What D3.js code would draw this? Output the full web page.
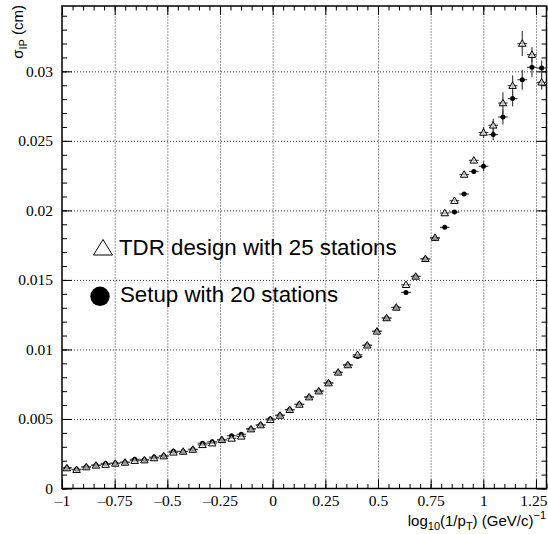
<!DOCTYPE html>
<html><head><meta charset="utf-8">
<script src="https://cdn.jsdelivr.net/npm/d3@7"></script>
<style>html,body{margin:0;padding:0;background:#fff}svg{display:block}</style>
</head><body>
<script>
// ---- data ----
const binCenters = [-0.977,-0.931,-0.885,-0.839,-0.793,-0.747,-0.701,-0.655,-0.609,-0.563,
  -0.517,-0.471,-0.425,-0.379,-0.333,-0.287,-0.241,-0.195,-0.149,-0.103,
  -0.057,-0.011,0.035,0.081,0.127,0.173,0.219,0.265,0.311,0.357,
  0.403,0.449,0.495,0.541,0.587,0.633,0.679,0.725,0.771,0.817,
  0.863,0.909,0.955,1.001,1.047,1.093,1.139,1.185,1.231,1.277];
const binHalfWidth = 0.023;
const tdrValues = [0.00147,0.00135,0.00154,0.00166,0.00172,0.0018,0.00187,0.0020,0.00204,0.00219,
  0.00233,0.0026,0.00266,0.0028,0.00314,0.00326,0.0035,0.0036,0.00375,0.00427,
  0.00456,0.00494,0.00525,0.00566,0.00604,0.00657,0.0070,0.00758,0.00835,0.00888,
  0.00962,0.0103,0.0113,0.01226,0.01302,0.01465,0.01525,0.01652,0.01804,0.01981,
  0.0207,0.02258,0.0236,0.0256,0.02612,0.02772,0.02897,0.0320,0.0312,0.02921];
const tdrErrors = [0.00003,0.00003,0.00003,0.00003,0.00003,0.00003,0.00003,0.00003,0.00003,0.00003,
  0.00003,0.00003,0.00003,0.00003,0.00003,0.00003,0.00003,0.00003,0.00003,0.00004,
  0.00004,0.00004,0.00004,0.00004,0.00004,0.00005,0.00005,0.00005,0.00005,0.00005,
  0.00006,0.00006,0.00006,0.00007,0.00007,0.00008,0.00008,0.0001,0.0001,0.0001,
  0.0001,0.00014,0.00016,0.0004,0.00048,0.00078,0.00074,0.0009,0.00054,0.00054];
const setupValues = [0.0015,0.00138,0.00156,0.00168,0.0018,0.00182,0.00189,0.0021,0.00206,0.00225,
  0.00235,0.00268,0.00266,0.00282,0.00326,0.00336,0.0035,0.0038,0.0039,0.0043,
  0.00458,0.005,0.00527,0.00568,0.00606,0.00659,0.00702,0.0076,0.00835,0.0089,
  0.0095,0.0103,0.0113,0.01226,0.01302,0.0141,0.01525,0.01652,0.018,0.01878,
  0.01988,0.02118,0.0228,0.02317,0.02545,0.02672,0.02804,0.0294,0.03029,0.03024];
const setupErrors = [0.00003,0.00003,0.00003,0.00003,0.00003,0.00003,0.00003,0.00003,0.00003,0.00003,
  0.00003,0.00003,0.00003,0.00003,0.00003,0.00003,0.00003,0.00003,0.00003,0.00004,
  0.00004,0.00004,0.00004,0.00004,0.00004,0.00005,0.00005,0.00005,0.00005,0.00005,
  0.00006,0.00006,0.00006,0.00007,0.00007,0.00008,0.00008,0.0001,0.0001,0.0001,
  0.0001,0.00012,0.00016,0.00036,0.0004,0.00054,0.00056,0.00072,0.00072,0.00054];
const xTickValues = [-1,-0.75,-0.5,-0.25,0,0.25,0.5,0.75,1,1.25];
const xTickLabels = ["\u20131","\u20130.75","\u20130.5","\u20130.25","0","0.25","0.5","0.75","1","1.25"];
const yTickValues = [0,0.005,0.01,0.015,0.02,0.025,0.03];
const yTickLabels = ["0","0.005","0.01","0.015","0.02","0.025","0.03"];
const legendLabels = ["TDR design with 25 stations","Setup with 20 stations"];

// ---- layout ----
const W = 548, H = 534;
const L = 62, R = 546.5, T = 6, B = 488.5;
const x = d3.scaleLinear().domain([-1, 1.3]).range([L, R]);
const y = d3.scaleLinear().domain([0, 0.0347]).range([B, T]);

const svg = d3.select("body").append("svg").attr("width", W).attr("height", H);
svg.append("rect").attr("width", W).attr("height", H).attr("fill", "#fff");

const serif = "'Liberation Serif','DejaVu Serif',serif";
const sans = "'Liberation Sans',Arial,sans-serif";

// grid
const xMinor = d3.range(-1, 1.3001, 0.05).map(v => +v.toFixed(3));
const yMinor = d3.range(0, 0.0347, 0.001).map(v => +v.toFixed(4));

const gridX = svg.append("g").attr("transform", `translate(0,${B})`)
  .call(d3.axisBottom(x).tickValues(xTickValues.slice(1)).tickSize(-(B - T)).tickFormat(""));
const gridY = svg.append("g").attr("transform", `translate(${L},0)`)
  .call(d3.axisLeft(y).tickValues(yTickValues.slice(1)).tickSize(-(R - L)).tickFormat(""));
[gridX, gridY].forEach(g => {
  g.select(".domain").remove();
  g.selectAll("line").attr("stroke", "#333").attr("stroke-dasharray", "1,2").attr("stroke-width", 1);
});

function styleAxis(g) {
  g.select(".domain").remove();
  g.selectAll("line").attr("stroke", "#000").attr("stroke-width", 1);
}
// bottom
svg.append("g").attr("transform", `translate(0,${B})`)
  .call(d3.axisBottom(x).tickValues(xMinor).tickSize(-4.5).tickFormat("")).call(styleAxis);
const xAx = svg.append("g").attr("transform", `translate(0,${B})`)
  .call(d3.axisBottom(x).tickValues(xTickValues).tickSize(-9).tickPadding(6)
    .tickFormat((d, i) => xTickLabels[i])).call(styleAxis);
xAx.selectAll("text").attr("font-family", serif).attr("font-size", 15.5).attr("fill", "#000");
// keep the last label inside the picture
xAx.selectAll(".tick").filter(d => d === 1.25).select("text").attr("text-anchor", "end").attr("x", 11);
// top
svg.append("g").attr("transform", `translate(0,${T})`)
  .call(d3.axisTop(x).tickValues(xMinor).tickSize(-4.5).tickFormat("")).call(styleAxis);
svg.append("g").attr("transform", `translate(0,${T})`)
  .call(d3.axisTop(x).tickValues(xTickValues).tickSize(-9).tickFormat("")).call(styleAxis);
// left
svg.append("g").attr("transform", `translate(${L},0)`)
  .call(d3.axisLeft(y).tickValues(yMinor).tickSize(-5).tickFormat("")).call(styleAxis);
const yAx = svg.append("g").attr("transform", `translate(${L},0)`)
  .call(d3.axisLeft(y).tickValues(yTickValues).tickSize(-10).tickPadding(9)
    .tickFormat((d, i) => yTickLabels[i])).call(styleAxis);
yAx.selectAll("text").attr("font-family", serif).attr("font-size", 15.5).attr("fill", "#000");
// right
svg.append("g").attr("transform", `translate(${R},0)`)
  .call(d3.axisRight(y).tickValues(yMinor).tickSize(-5).tickFormat("")).call(styleAxis);
svg.append("g").attr("transform", `translate(${R},0)`)
  .call(d3.axisRight(y).tickValues(yTickValues).tickSize(-10).tickFormat("")).call(styleAxis);

// frame
svg.append("rect").attr("x", L).attr("y", T).attr("width", R - L).attr("height", B - T)
  .attr("fill", "none").attr("stroke", "#000").attr("stroke-width", 1.5);

// ---- data marks ----
const series = [
  { vals: tdrValues, errs: tdrErrors },
  { vals: setupValues, errs: setupErrors }
];
const plot = svg.append("g");
series.forEach(s => {
  const g = plot.append("g");
  binCenters.forEach((c, i) => {
    const v = s.vals[i], e = s.errs[i];
    g.append("line").attr("x1", x(c - binHalfWidth)).attr("x2", x(c + binHalfWidth))
      .attr("y1", y(v)).attr("y2", y(v)).attr("stroke", "#444").attr("stroke-width", 1.2);
    g.append("line").attr("x1", x(c)).attr("x2", x(c))
      .attr("y1", y(v - e)).attr("y2", y(v + e)).attr("stroke", "#444").attr("stroke-width", 1.2);
  });
});
const triPath = (cx, cy, w, h) =>
  `M${cx},${cy - h * 0.58}L${cx - w / 2},${cy + h * 0.42}L${cx + w / 2},${cy + h * 0.42}Z`;
plot.append("g").selectAll("circle").data(binCenters).join("circle")
  .attr("cx", c => x(c)).attr("cy", (c, i) => y(setupValues[i])).attr("r", 2.5)
  .attr("fill", "#000");
plot.append("g").selectAll("path").data(binCenters).join("path")
  .attr("d", (c, i) => triPath(x(c), y(tdrValues[i]), 7.5, 6.5))
  .attr("fill", "#fff").attr("fill-opacity", 0.6).attr("stroke", "#000").attr("stroke-width", 1);

// ---- legend ----
const leg = svg.append("g");
leg.append("path").attr("d", triPath(103, 248.5, 19, 15.5))
  .attr("fill", "#fff").attr("stroke", "#000").attr("stroke-width", 1);
leg.append("circle").attr("cx", 100).attr("cy", 296.3).attr("r", 9.7).attr("fill", "#000");
leg.append("text").attr("x", 119).attr("y", 255).text(legendLabels[0])
  .attr("font-family", sans).attr("font-size", 22.3).attr("fill", "#000");
leg.append("text").attr("x", 120).attr("y", 302).text(legendLabels[1])
  .attr("font-family", sans).attr("font-size", 22.3).attr("fill", "#000");

// ---- axis titles ----
const xt = svg.append("text").attr("x", 546).attr("y", 526).attr("text-anchor", "end")
  .attr("font-family", sans).attr("font-size", 15).attr("fill", "#000");
xt.append("tspan").text("log");
xt.append("tspan").attr("dy", 4).attr("font-size", 11).text("10");
xt.append("tspan").attr("dy", -4).text("(1/p");
xt.append("tspan").attr("dy", 4).attr("font-size", 11).text("T");
xt.append("tspan").attr("dy", -4).text(") (GeV/c)");
xt.append("tspan").attr("dy", -7).attr("font-size", 11).text("\u22121");

const yt = svg.append("text").attr("transform", "translate(23,5) rotate(-90)")
  .attr("text-anchor", "end").attr("font-family", sans).attr("font-size", 15).attr("fill", "#000");
yt.append("tspan").text("\u03c3");
yt.append("tspan").attr("dy", 4).attr("font-size", 11).text("IP");
yt.append("tspan").attr("dy", -4).text(" (cm)");
</script>
</body></html>
